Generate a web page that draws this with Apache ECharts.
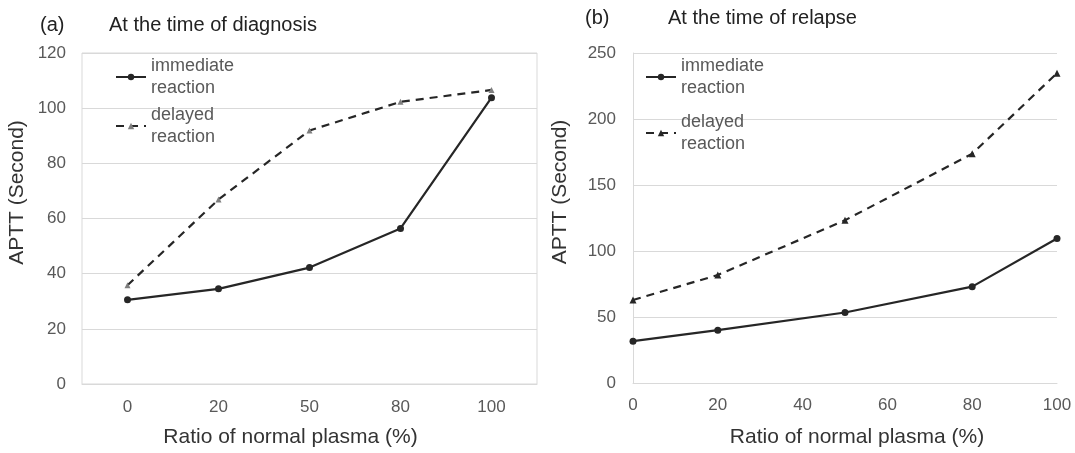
<!DOCTYPE html>
<html>
<head>
<meta charset="utf-8">
<title>APTT mixing test</title>
<script src="https://cdn.jsdelivr.net/npm/echarts@6/dist/echarts.min.js"></script>
<style>
  html, body { margin: 0; padding: 0; background: #fff; }
  #chart { width: 1075px; height: 453px; }
</style>
</head>
<body>
<div id="chart"></div>
<script>
// panel (a): at the time of diagnosis
var ratioCats = ['0', '20', '50', '80', '100'];
var diagImmediate = [30.5, 34.5, 42.2, 56.4, 103.8];
var diagDelayed = [35.8, 66.9, 91.9, 102.3, 106.6];
var diagTicks = { min: 0, max: 120, interval: 20 };

// panel (b): at the time of relapse
var ratioValues = [0, 20, 50, 80, 100];
var relImmediate = [31.7, 40.0, 53.4, 73.0, 109.5];
var relDelayed = [62.9, 81.8, 123.3, 173.7, 234.7];
var relTicks = { min: 0, max: 250, interval: 50 };
var relXTicks = { min: 0, max: 100, interval: 20 };

var FONT = '"Liberation Sans", Arial, sans-serif';
var gray = '#595959';
var gridColor = '#d9d9d9';
var lineColor = '#262626';

function pairs(xs, ys) {
  return xs.map(function (x, i) { return [x, ys[i]]; });
}

function legendBox(name, left, top, style) {
  var item = style ? { name: name, itemStyle: style } : name;
  return {
    data: [item],
    left: left,
    top: top,
    padding: 0,
    orient: 'vertical',
    itemWidth: 30,
    itemHeight: 8,
    selectedMode: false,
    formatter: function (n) { return n.replace(' ', '\n'); },
    textStyle: {
      fontFamily: FONT,
      fontSize: 18,
      color: gray,
      lineHeight: 22,
      padding: [22, 0, 0, 0]
    }
  };
}

function titleBox(text, left, top) {
  return {
    text: text, left: left, top: top, padding: 0,
    textStyle: { fontFamily: FONT, fontSize: 20, fontWeight: 'normal', color: '#222' }
  };
}

var chart = echarts.init(document.getElementById('chart'), null, { renderer: 'canvas' });

var labelStyle = { fontFamily: FONT, fontSize: 17, color: gray };
// x titles are not exactly centred under the plots in the original
var xNameStyleA = { fontFamily: FONT, fontSize: 21, color: '#333', padding: [0, 38, 0, 0] };
var xNameStyleB = { fontFamily: FONT, fontSize: 21, color: '#333', padding: [0, 0, 0, 24] };
// y titles are a bit above the middle of the plot
var yNameStyle = { fontFamily: FONT, fontSize: 21, color: '#333', padding: [0, 0, 0, 52] };

chart.setOption({
  backgroundColor: '#fff',
  animation: false,
  title: [
    titleBox('(a)', 40, 15),
    titleBox('At the time of diagnosis', 109, 15),
    titleBox('(b)', 585, 8),
    titleBox('At the time of relapse', 668, 8)
  ],
  legend: [
    legendBox('immediate reaction', 115, 74 - 30, null),
    legendBox('delayed reaction', 115, 123 - 30, null),
    legendBox('immediate reaction', 645, 74 - 30, null),
    legendBox('delayed reaction', 645, 130 - 30, { color: lineColor })
  ],
  grid: [
    { left: 82, right: 538, top: 53, bottom: 68, show: true, borderColor: gridColor, borderWidth: 1, backgroundColor: 'transparent' },
    { left: 633, right: 18, top: 53, bottom: 69 }
  ],
  xAxis: [
    {
      gridIndex: 0,
      type: 'category',
      data: ratioCats,
      boundaryGap: true,
      name: 'Ratio of normal plasma (%)',
      nameLocation: 'middle',
      nameGap: 43,
      nameTextStyle: xNameStyleA,
      axisLine: { show: true, lineStyle: { color: gridColor } },
      axisTick: { show: false },
      axisLabel: Object.assign({ margin: 15 }, labelStyle),
      splitLine: { show: false }
    },
    {
      gridIndex: 1,
      type: 'value',
      min: relXTicks.min,
      max: relXTicks.max,
      interval: relXTicks.interval,
      name: 'Ratio of normal plasma (%)',
      nameLocation: 'middle',
      nameGap: 44,
      nameTextStyle: xNameStyleB,
      axisLine: { show: true, lineStyle: { color: gridColor } },
      axisTick: { show: false },
      axisLabel: Object.assign({ margin: 14 }, labelStyle),
      splitLine: { show: false }
    }
  ],
  yAxis: [
    {
      gridIndex: 0,
      type: 'value',
      min: diagTicks.min,
      max: diagTicks.max,
      interval: diagTicks.interval,
      name: 'APTT (Second)',
      nameLocation: 'middle',
      nameGap: 54,
      nameTextStyle: yNameStyle,
      axisLine: { show: false },
      axisTick: { show: false },
      axisLabel: Object.assign({ margin: 16 }, labelStyle),
      splitLine: { show: true, lineStyle: { color: gridColor, width: 1 } }
    },
    {
      gridIndex: 1,
      type: 'value',
      min: relTicks.min,
      max: relTicks.max,
      interval: relTicks.interval,
      name: 'APTT (Second)',
      nameLocation: 'middle',
      nameGap: 62,
      nameTextStyle: yNameStyle,
      axisLine: { show: true, lineStyle: { color: gridColor } },
      axisTick: { show: false },
      axisLabel: Object.assign({ margin: 17 }, labelStyle),
      splitLine: { show: true, lineStyle: { color: gridColor, width: 1 } }
    }
  ],
  series: [
    {
      name: 'immediate reaction',
      type: 'line',
      xAxisIndex: 0, yAxisIndex: 0,
      data: diagImmediate,
      symbol: 'circle', symbolSize: 7,
      itemStyle: { color: lineColor },
      lineStyle: { color: lineColor, width: 2.2 }
    },
    {
      name: 'delayed reaction',
      type: 'line',
      xAxisIndex: 0, yAxisIndex: 0,
      data: diagDelayed,
      symbol: 'triangle', symbolSize: 6,
      itemStyle: { color: '#7f7f7f' },
      lineStyle: { color: lineColor, width: 2.2, type: [8, 6] }
    },
    {
      name: 'immediate reaction',
      type: 'line',
      xAxisIndex: 1, yAxisIndex: 1,
      data: pairs(ratioValues, relImmediate),
      symbol: 'circle', symbolSize: 7,
      itemStyle: { color: lineColor },
      lineStyle: { color: lineColor, width: 2.2 }
    },
    {
      name: 'delayed reaction',
      type: 'line',
      xAxisIndex: 1, yAxisIndex: 1,
      data: pairs(ratioValues, relDelayed),
      symbol: 'triangle', symbolSize: 7,
      itemStyle: { color: lineColor },
      lineStyle: { color: lineColor, width: 2.2, type: [8, 6] }
    }
  ]
});
</script>
</body>
</html>
